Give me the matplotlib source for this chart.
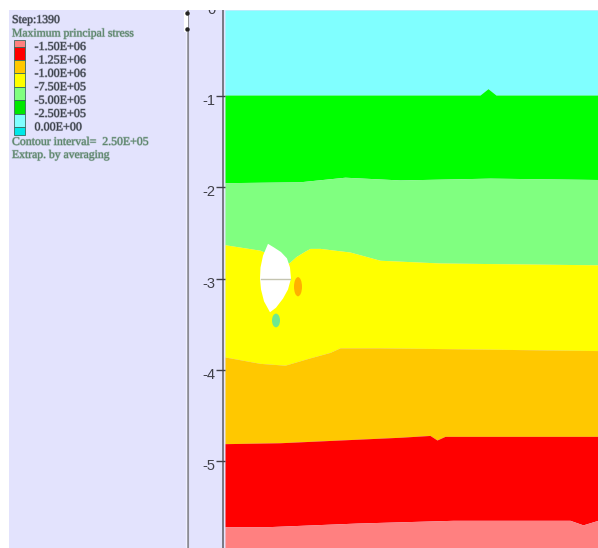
import numpy as np
import matplotlib
matplotlib.use('Agg')
import matplotlib.pyplot as plt
from matplotlib.patches import Rectangle, Polygon, Ellipse
from matplotlib.transforms import ScaledTranslation
import matplotlib.patheffects as pe

plt.rcParams['font.family'] = ['Liberation Serif', 'DejaVu Serif']

W, H = 598, 548

# contour band colours, top to bottom of the model
band_colors = ['#80FFFF', '#00FF00', '#80FF80', '#FFFF00', '#FFC800', '#FF0000', '#FF8080']

# band boundaries, depth
xb1 = [0, 255, 263, 271, 373]
yb1 = [-0.99, -0.99, -0.92, -0.99, -0.99]
xb2 = [0, 75, 120, 175, 265, 373]
yb2 = [-1.95, -1.94, -1.89, -1.92, -1.90, -1.915]
xb3 = [0, 35, 64, 71, 80, 85, 95, 125, 155, 215, 373]
yb3 = [-2.63, -2.69, -2.83, -2.76, -2.70, -2.67, -2.67, -2.71, -2.80, -2.83, -2.85]
xb4 = [0, 35, 60, 85, 105, 115, 155, 230, 373]
yb4 = [-3.86, -3.93, -3.95, -3.87, -3.81, -3.76, -3.76, -3.77, -3.79]
xb5 = [0, 55, 175, 205, 212, 220, 373]
yb5 = [-4.81, -4.80, -4.74, -4.72, -4.77, -4.73, -4.73]
xb6 = [0, 42, 132, 228, 345, 358, 373]
yb6 = [-5.72, -5.72, -5.68, -5.65, -5.65, -5.70, -5.65]
boundaries = [(xb1, yb1), (xb2, yb2), (xb3, yb3), (xb4, yb4), (xb5, yb5), (xb6, yb6)]

# white element
hole_x = [43, 38, 35.5, 35, 36, 39, 45, 51, 58, 63, 66, 65, 62, 56, 49]
hole_y = [-2.62, -2.75, -2.88, -3.0, -3.12, -3.25, -3.37, -3.32, -3.22, -3.12, -3.0, -2.88, -2.78, -2.71, -2.66]

y_ticks = [0, -1, -2, -3, -4, -5, -6]

# legend
legend_values = ['-1.50E+06', '-1.25E+06', '-1.00E+06', '-7.50E+05', '-5.00E+05', '-2.50E+05', '0.00E+00']
legend_colors = ['#FF8080', '#FF0000', '#FFC800', '#FFFF00', '#80FF80', '#00E800', '#80FFFF', '#00E8E8']

panel = '#E3E3FD'
dark = '#3A4048'
green = '#5A8468'
soft = lambda c: [pe.withStroke(linewidth=0.9, foreground=c, alpha=0.35)]

fig = plt.figure(figsize=(W / 100, H / 100), dpi=100, facecolor='white')

# left panel in pixel coords
bg = fig.add_axes([0, 0, 1, 1])
bg.set_xlim(0, W)
bg.set_ylim(H, 0)
bg.axis('off')
bg.add_patch(Rectangle((9, 10), W - 9, H - 10, color=panel, lw=0))
bg.plot([188, 188], [10, H], color='#8C8C94', lw=1.5)
bg.plot([186, 186], [10, H], color='#F0F0FF', lw=1)
bg.plot([222.5, 222.5], [10, H], color='#70707A', lw=1.3)
bg.plot([185.5, 185.5], [14, 30], color='white', lw=3)
bg.plot([187, 187], [13, 29], 'o', color='#222222', ms=2.2)

bg.text(12, 20, 'Step:1390', color=dark, fontsize=8.5, va='center', path_effects=soft(dark))
bg.text(12, 33.5, 'Maximum principal stress', color=green, fontsize=8.4, va='center', path_effects=soft(green))
edges = [40] + [46.5 + 13.4 * i for i in range(7)] + [135]
for i, c in enumerate(legend_colors):
    bg.add_patch(Rectangle((13.5, edges[i]), 11, edges[i + 1] - edges[i], facecolor=c,
                           edgecolor='#3A6A60', lw=0.6))
for i, s in enumerate(legend_values):
    bg.text(34.5, 47 + i * 13.4, s, color=dark, fontsize=8.7, va='center', path_effects=soft(dark))
bg.text(12, 142, 'Contour interval=  2.50E+05', color=green, fontsize=8.5, va='center', path_effects=soft(green))
bg.text(12, 155, 'Extrap. by averaging', color=green, fontsize=8.4, va='center', path_effects=soft(green))

# model area, runs past the top and bottom of the picture so the 0 and -6 labels get cut
ax = fig.add_axes([225 / W, -20 / H, (W - 225) / W, (H + 20) / H])
ax.patch.set_alpha(0)
grid = np.arange(0, 374)
top_y, bottom_y = -0.058, -5.953
curves = [np.interp(grid, x, y) for x, y in boundaries]
tops = [np.full(grid.shape, top_y)] + curves
bottoms = curves + [np.full(grid.shape, bottom_y)]
for t, b, c in zip(tops, bottoms, band_colors):
    ax.fill_between(grid, b, t, color=c, lw=0)

ax.add_patch(Polygon(list(zip(hole_x, hole_y)), closed=True, facecolor='white', edgecolor='none'))
ax.plot([36, 65], [-3.0, -3.0], color='#C4C4B0', lw=1)
ax.add_patch(Ellipse((73, -3.09), 8, 0.21, color='#FFB000', lw=0))
ax.add_patch(Ellipse((51, -3.46), 8, 0.15, color='#70E890', lw=0))

for s in ax.spines.values():
    s.set_visible(False)
ax.set_xticks([])
ax.set_yticks(y_ticks)
ax.set_yticklabels([str(v) for v in y_ticks], color='#404048', family='Liberation Sans', fontsize=10.5)
ax.tick_params(axis='y', length=6.2, width=1, color='#404048', pad=0.5)
shift = ScaledTranslation(0, -3.5 / 100, fig.dpi_scale_trans)
for lab in ax.get_yticklabels():
    lab.set_transform(lab.get_transform() + shift)
ax.set_xlim(0, 373)
ax.set_ylim(-1 - 472 / 91.25, -1 + 96 / 91.25)

# white border above the panel cuts the 0 label
fig.add_artist(Rectangle((0, 1 - 10 / H), 1, 10 / H, transform=fig.transFigure, color='white', lw=0, zorder=5))

fig.savefig('out.png', dpi=100)
